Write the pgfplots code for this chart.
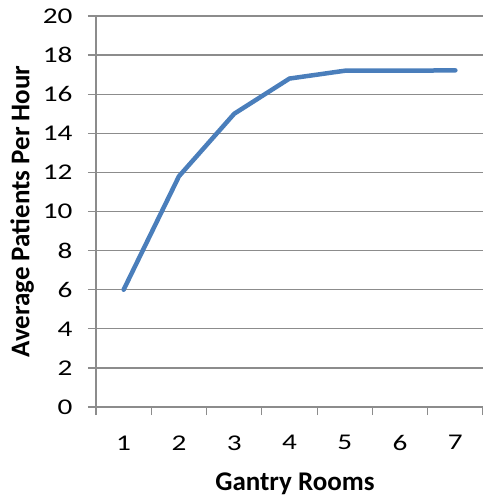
\documentclass[border=0pt]{standalone}
\usepackage{fontspec}
\setmainfont{Carlito}
\newfontfamily\tickfont[FakeStretch=1.3]{Carlito}
\usepackage{pgfplots}
\pgfplotsset{compat=1.18}

\definecolor{linecol}{HTML}{4A7EBB}
\definecolor{gridcol}{HTML}{8C8C8C}

\begin{document}
\begin{tikzpicture}
\begin{axis}[
    at={(0,0)}, anchor=south west,
    scale only axis,
    width=387bp, height=391bp,
    xmin=0.5, xmax=7.5,
    ymin=0, ymax=20,
    axis x line*=bottom,
    axis y line*=left,
    axis line style={gridcol, line width=1.2bp},
    xtick={1,...,7},
    minor xtick={0.5,1.5,...,7.5},
    major x tick style={draw=none},
    minor x tick style={gridcol, line width=1.2bp},
    minor tick length=8bp,
    ytick={0,2,...,20},
    major tick length=8bp,
    y tick style={gridcol, line width=1.2bp},
    tick align=outside,
    ymajorgrids=true,
    grid style={gridcol, line width=1.2bp},
    tick label style={font=\tickfont\fontsize{22.5bp}{25bp}\selectfont},
    /pgf/number format/assume math mode=true,
    xticklabel style={yshift=-17bp},
    yticklabel style={xshift=-12bp},
    xlabel={Gantry Rooms},
    ylabel={Average Patients Per Hour},
    label style={font=\fontsize{27bp}{30bp}\selectfont\bfseries},
    xlabel style={at={(axis description cs:0.514,-0.197)}, anchor=center},
    ylabel style={at={(axis description cs:-0.191,0.5)}, anchor=center},
]
\addplot[linecol, line width=4.5bp, line cap=round, line join=round]
    coordinates {
    (1,6.0) (2,11.8) (3,15.0) (4,16.8) (5,17.2) (6,17.2) (7,17.22)
    };
\end{axis}
\pgfresetboundingbox
\path[use as bounding box] (-96bp,-89bp) rectangle (387bp,407bp);
\end{tikzpicture}
\end{document}
